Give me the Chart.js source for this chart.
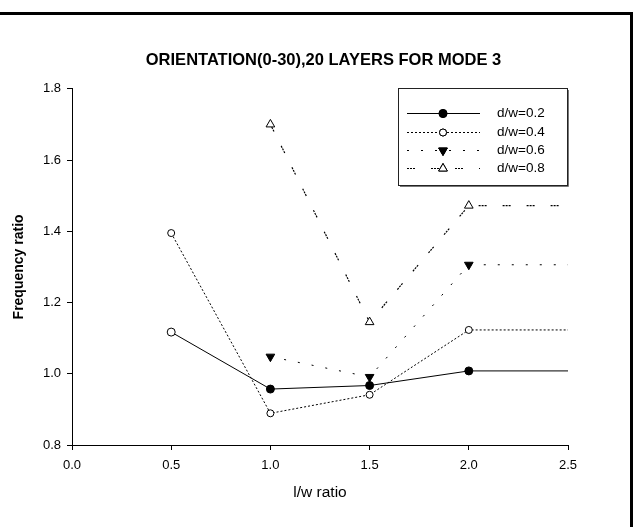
<!DOCTYPE html>
<html><head><meta charset="utf-8">
<script src="https://cdn.jsdelivr.net/npm/chart.js@4.4.1/dist/chart.umd.min.js"></script>
<style>
html,body{margin:0;padding:0;background:#fff;overflow:hidden}
#wrap{position:relative;width:637px;height:527px}
#frame{position:absolute;left:0;top:12px;width:630px;height:520px;border-top:3px solid #000;border-right:3px solid #000;pointer-events:none}
</style></head><body>
<div id="wrap"><canvas id="c" width="637" height="527"></canvas><div id="frame"></div></div>
<script>
const xValues = [0.5, 1.0, 1.5, 2.0, 2.5];
const seriesNames = ['d/w=0.2', 'd/w=0.4', 'd/w=0.6', 'd/w=0.8'];
const dw02 = [1.117, 0.957, 0.967, 1.008, 1.008];
const dw04 = [1.395, 0.889, 0.941, 1.123, 1.123];
const dw06 = [null, 1.048, 0.991, 1.306, 1.306];
const dw08 = [null, 1.700, 1.145, 1.472, 1.472];
const xTickLabels = ['0.0', '0.5', '1.0', '1.5', '2.0', '2.5'];
const yTickLabels = ['0.8', '1.0', '1.2', '1.4', '1.6', '1.8'];
const titleText = 'ORIENTATION(0-30),20 LAYERS FOR MODE 3';
const xTitle = 'l/w ratio';
const yTitle = 'Frequency ratio';

const FONT = '"Liberation Sans", Arial, Helvetica, sans-serif';
const pts = arr => xValues.map((x, i) => ({x: x, y: arr[i]}));

const datasets = [
  {label: seriesNames[0], data: pts(dw02), borderColor: '#000', borderWidth: 1, borderDash: [],
   pointStyle: 'circle', pointRadius: [4, 4, 4, 4, 0], pointBackgroundColor: ['#fff', '#000', '#000', '#000', '#000'],
   pointBorderColor: '#000', pointBorderWidth: 1, legendFill: '#000', legendRadius: 4},
  {label: seriesNames[1], data: pts(dw04), borderColor: '#000', borderWidth: 1, borderDash: [2, 2],
   pointStyle: 'circle', pointRadius: [3.5, 3.5, 3.5, 3.5, 0], pointBackgroundColor: '#fff',
   pointBorderColor: '#000', pointBorderWidth: 1, legendFill: '#fff', legendRadius: 3.5},
  {label: seriesNames[2], data: pts(dw06), borderColor: '#000', borderWidth: 1, borderDash: [2, 12],
   pointStyle: 'triangle', rotation: 180, pointRadius: [0, 5, 5, 5, 0], pointBackgroundColor: '#000',
   pointBorderColor: '#000', pointBorderWidth: 1, legendFill: '#000', legendRadius: 5},
  {label: seriesNames[3], data: pts(dw08), borderColor: '#000', borderWidth: 1.2, borderDash: [2, 1, 2, 1, 2, 16],
   pointStyle: 'triangle', pointRadius: [0, 5, 5, 5, 0], pointBackgroundColor: '#fff',
   pointBorderColor: '#000', pointBorderWidth: 1, legendFill: '#fff', legendRadius: 5}
];

const legendPlugin = {
  id: 'boxLegend',
  afterDraw(chart) {
    const ctx = chart.ctx;
    const L = 398, T = 88, R = 567, B = 185;
    ctx.save();
    ctx.fillStyle = '#fff';
    ctx.fillRect(L, T, R - L, B - T);
    ctx.strokeStyle = '#222';
    ctx.lineWidth = 1;
    ctx.setLineDash([]);
    ctx.strokeRect(L + 0.5, T + 0.5, R - L, B - T);
    ctx.strokeStyle = '#777';
    ctx.beginPath();
    ctx.moveTo(R + 1.5, T + 2); ctx.lineTo(R + 1.5, B + 1.5); ctx.lineTo(L + 2, B + 1.5);
    ctx.stroke();
    const rows = [113, 132, 150, 168];
    chart.data.datasets.forEach((ds, i) => {
      const y = rows[i] + 0.5;
      ctx.strokeStyle = ds.borderColor;
      ctx.lineWidth = ds.borderWidth;
      ctx.setLineDash(ds.borderDash || []);
      ctx.beginPath(); ctx.moveTo(407, y); ctx.lineTo(480, y); ctx.stroke();
      ctx.setLineDash([]);
      ctx.lineWidth = 1;
      Chart.helpers.drawPoint(ctx, {pointStyle: ds.pointStyle, rotation: ds.rotation || 0,
        radius: ds.legendRadius, borderWidth: 1}, 443, y);
      ctx.fillStyle = ds.legendFill; ctx.strokeStyle = '#000';
      ctx.fill(); ctx.stroke();
      ctx.fillStyle = '#000';
      ctx.font = '13.5px ' + FONT;
      ctx.textAlign = 'left'; ctx.textBaseline = 'middle';
      ctx.fillText(ds.label, 497, rows[i]);
    });
    ctx.restore();
  }
};

new Chart(document.getElementById('c'), {
  type: 'line',
  data: {datasets: datasets},
  plugins: [legendPlugin],
  options: {
    responsive: false, animation: false, devicePixelRatio: 1,
    layout: {padding: {left: 10, right: 0, top: 0, bottom: 0}},
    plugins: {
      legend: {display: false}, tooltip: {enabled: false},
      title: {display: true, text: titleText, color: '#000',
        font: {family: FONT, size: 16.5, weight: 'bold'}, padding: {top: 51, bottom: 18}}
    },
    scales: {
      x: {type: 'linear', min: 0, max: 2.5,
        ticks: {stepSize: 0.5, color: '#000', font: {family: FONT, size: 13}, padding: 8, maxRotation: 0,
          callback: (v, i) => xTickLabels[i]},
        grid: {drawOnChartArea: false, tickLength: 5, color: '#000'},
        border: {color: '#000', width: 1},
        title: {display: true, text: xTitle, color: '#000', font: {family: FONT, size: 15.5}, padding: {bottom: 25}},
        afterFit: s => { s.height = 82; }
      },
      y: {type: 'linear', min: 0.8, max: 1.8,
        ticks: {stepSize: 0.2, color: '#000', font: {family: FONT, size: 13}, padding: 6,
          callback: (v, i) => yTickLabels[i]},
        grid: {drawOnChartArea: false, tickLength: 5, color: '#000'},
        border: {color: '#000', width: 1},
        title: {display: true, text: yTitle, color: '#000', font: {family: FONT, size: 14, weight: 'bold'}, padding: {top: 1}},
        afterFit: s => { s.width = 62; }
      },
      yR: {type: 'linear', position: 'right', display: true,
        ticks: {display: false}, grid: {display: false}, border: {display: false},
        afterFit: s => { s.width = 69; }
      }
    }
  }
});
</script>
</body></html>
